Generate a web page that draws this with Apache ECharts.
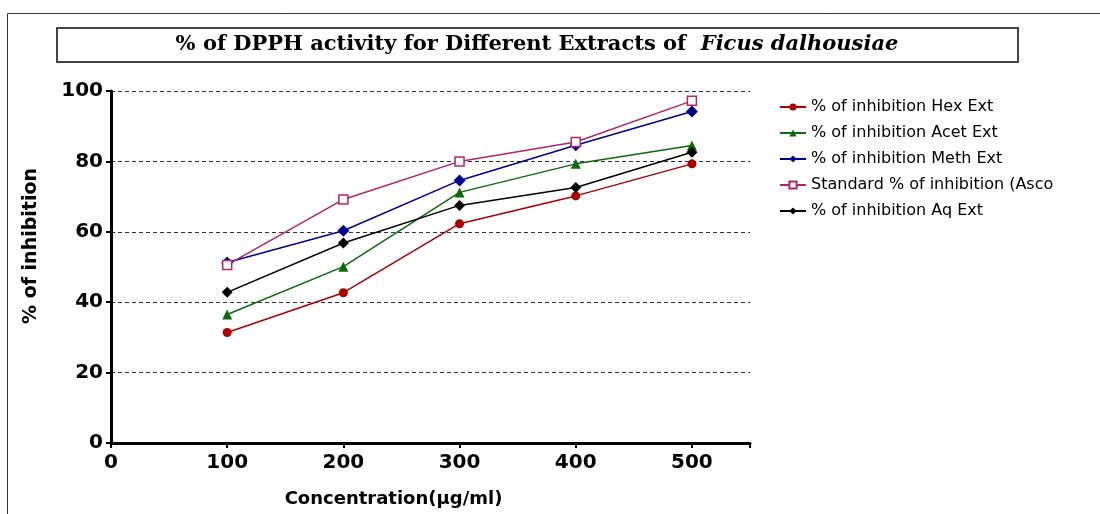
<!DOCTYPE html>
<html>
<head>
<meta charset="utf-8">
<script src="https://cdn.jsdelivr.net/npm/echarts@6/dist/echarts.min.js"></script>
<style>
  html, body { margin: 0; padding: 0; background: #fff; }
  #chart { width: 1100px; height: 514px; }
</style>
</head>
<body>
<div id="chart"></div>
<script>
// concentrations (µg/ml)
const conc = [100, 200, 300, 400, 500];
const hexExt = [31.4, 42.7, 62.3, 70.2, 79.3];
const acetExt = [36.5, 50.1, 71.2, 79.3, 84.5];
const methExt = [51.3, 60.3, 74.6, 84.6, 94.2];
const ascoStd = [50.6, 69.2, 80.0, 85.5, 97.2];
const aqExt = [42.8, 56.8, 67.5, 72.6, 82.6];

const seriesNames = [
  '% of inhibition Hex Ext',
  '% of inhibition Acet Ext',
  '% of inhibition Meth Ext',
  'Standard % of inhibition (Asco',
  '% of inhibition Aq Ext'
];

const pairs = vals => conc.map((c, i) => [c, vals[i]]);
const font = 'DejaVu Sans';

const mk = (name, vals, color, symbol, size, empty) => ({
  name: name,
  type: 'line',
  data: pairs(vals),
  symbol: symbol,
  symbolSize: size,
  lineStyle: { color: color, width: 1.5 },
  itemStyle: empty ? { color: '#fff', borderColor: color, borderWidth: 1.5 } : { color: color },
  emphasis: { disabled: true },
  z: 3
});

const chart = echarts.init(document.getElementById('chart'));
chart.setOption({
  animation: false,
  backgroundColor: '#fff',
  graphic: [
    { type: 'rect', shape: { x: 7.5, y: 13.5, width: 1200, height: 600 }, style: { fill: 'none', stroke: '#333', lineWidth: 1 }, z: -1 },
    { type: 'rect', shape: { x: 57, y: 28, width: 961, height: 34 }, style: { fill: '#fff', stroke: '#444', lineWidth: 2 } },
    {
      type: 'text', x: 537, y: 45,
      style: {
        text: '{n|% of DPPH activity for Different Extracts of  }{i|Ficus dalhousiae}',
        align: 'center', verticalAlign: 'middle',
        rich: {
          n: { fontFamily: 'DejaVu Serif', fontWeight: 'bold', fontSize: 21, fill: '#000' },
          i: { fontFamily: 'DejaVu Serif', fontWeight: 'bold', fontStyle: 'italic', fontSize: 21, fill: '#000' }
        }
      }
    }
  ],
  grid: { left: 111, right: 350, top: 91, bottom: 71 },
  legend: {
    orient: 'vertical',
    left: 774, top: 94,
    itemWidth: 26, itemHeight: 9, itemGap: 10,
    data: seriesNames,
    textStyle: { fontFamily: font, fontSize: 16, color: '#000' }
  },
  xAxis: {
    type: 'value', min: 0, max: 550, interval: 100,
    name: 'Concentration(µg/ml)', nameLocation: 'middle', nameGap: 47,
    nameTextStyle: { fontFamily: font, fontWeight: 'bold', fontSize: 18, color: '#000', padding: [0, 74, 0, 0] },
    axisLine: { show: true, lineStyle: { color: '#000', width: 3 } },
    axisTick: { show: true, length: 5, lineStyle: { color: '#000', width: 2 } },
    axisLabel: {
      fontFamily: font, fontWeight: 'bold', fontSize: 20, color: '#000', margin: 10,
      formatter: v => (v % 100 === 0 ? String(v) : '')
    },
    splitLine: { show: false }
  },
  yAxis: {
    type: 'value', min: 0, max: 100, interval: 20,
    name: '% of inhibition', nameLocation: 'middle', nameGap: 70, nameRotate: 90,
    nameTextStyle: { fontFamily: font, fontWeight: 'bold', fontSize: 19, color: '#000', padding: [0, 0, 0, 42] },
    axisLine: { show: true, lineStyle: { color: '#000', width: 3 } },
    axisTick: { show: true, length: 5, lineStyle: { color: '#000', width: 2 } },
    axisLabel: { fontFamily: font, fontWeight: 'bold', fontSize: 20, color: '#000', margin: 8 },
    splitLine: { show: true, lineStyle: { color: '#333', type: [4, 3], width: 1 } }
  },
  series: [
    mk(seriesNames[0], hexExt, '#aa0000', 'circle', 9, false),
    mk(seriesNames[1], acetExt, '#0b6b0b', 'triangle', 10, false),
    mk(seriesNames[2], methExt, '#000090', 'diamond', 12, false),
    mk(seriesNames[3], ascoStd, '#b5246b', 'rect', 9, true),
    mk(seriesNames[4], aqExt, '#000000', 'diamond', 11, false)
  ]
});
</script>
</body>
</html>
